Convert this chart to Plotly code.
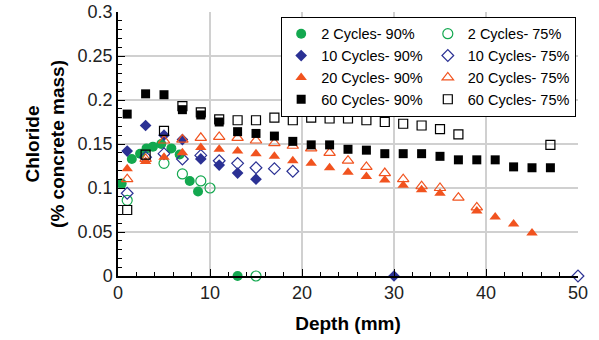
import plotly.graph_objects as go

# 2 cycles
c2_90_x = [0.4, 1.5, 2.4, 3.1, 3.8, 4.7, 5.8, 6.7, 7.8, 8.7, 13]
c2_90_y = [0.105, 0.133, 0.139, 0.145, 0.147, 0.150, 0.145, 0.138, 0.108, 0.096, 0.0]
c2_75_x = [1, 5, 7, 9, 10, 15]
c2_75_y = [0.086, 0.128, 0.116, 0.108, 0.100, 0.0]
# 10 cycles
c10_90_x = [1, 3, 5, 7, 9, 11, 13, 15, 30]
c10_90_y = [0.142, 0.171, 0.160, 0.155, 0.133, 0.126, 0.117, 0.110, 0.0]
c10_75_x = [1, 3, 5, 7, 9, 11, 13, 15, 17, 19, 50]
c10_75_y = [0.094, 0.135, 0.139, 0.133, 0.137, 0.131, 0.128, 0.123, 0.122, 0.119, 0.0]
# 20 cycles
c20_90_x = [1, 3, 5, 7, 9, 11, 13, 15, 17, 19, 21, 23, 25, 27, 29, 31, 33, 35, 39, 41, 43, 45]
c20_90_y = [0.122, 0.130, 0.135, 0.140, 0.146, 0.144, 0.142, 0.139, 0.136, 0.131, 0.128, 0.123,
            0.118, 0.113, 0.109, 0.103, 0.098, 0.094, 0.074, 0.067, 0.059, 0.049]
c20_75_x = [1, 3, 5, 7, 9, 11, 13, 15, 17, 19, 21, 23, 25, 27, 29, 31, 33, 35, 37, 39]
c20_75_y = [0.110, 0.133, 0.154, 0.155, 0.157, 0.158, 0.157, 0.154, 0.151, 0.148, 0.145, 0.140,
            0.131, 0.124, 0.117, 0.110, 0.102, 0.100, 0.089, 0.078]
# 60 cycles
c60_90_x = [1, 3, 5, 7, 9, 11, 13, 15, 17, 19, 21, 23, 25, 27, 29, 31, 33, 35, 37, 39, 41, 43, 45, 47]
c60_90_y = [0.184, 0.207, 0.206, 0.189, 0.183, 0.175, 0.164, 0.162, 0.159, 0.153, 0.149, 0.149,
            0.144, 0.143, 0.139, 0.139, 0.139, 0.136, 0.132, 0.132, 0.132, 0.124, 0.123, 0.123]
c60_75_x = [1, 3, 5, 7, 9, 11, 13, 15, 17, 19, 21, 23, 25, 27, 29, 31, 33, 35, 37, 47]
c60_75_y = [0.075, 0.138, 0.165, 0.193, 0.186, 0.178, 0.177, 0.177, 0.180, 0.177, 0.180, 0.179,
            0.179, 0.177, 0.175, 0.173, 0.171, 0.167, 0.161, 0.149]

GREEN = "#13a84f"
BLUE = "#2b3194"
RED = "#f1531f"
BLACK = "#000000"

series = [
    ("2 Cycles- 90%", c2_90_x, c2_90_y, "circle", GREEN, 10, "h90"),
    ("2 Cycles- 75%", c2_75_x, c2_75_y, "circle-open", GREEN, 10, "h75"),
    ("10 Cycles- 90%", c10_90_x, c10_90_y, "diamond", BLUE, 9, "h90"),
    ("10 Cycles- 75%", c10_75_x, c10_75_y, "diamond-open", BLUE, 9, "h75"),
    ("20 Cycles- 90%", c20_90_x, c20_90_y, "triangle-up", RED, 10, "h90"),
    ("20 Cycles- 75%", c20_75_x, c20_75_y, "triangle-up-open", RED, 10, "h75"),
    ("60 Cycles- 90%", c60_90_x, c60_90_y, "square", BLACK, 9, "h90"),
    ("60 Cycles- 75%", c60_75_x, c60_75_y, "square-open", BLACK, 9, "h75"),
]

fig = go.Figure()
for name, xs, ys, sym, col, sz, grp in series:
    fig.add_trace(go.Scatter(
        x=xs, y=ys, mode="markers", name=name, cliponaxis=False, legendgroup=grp,
        marker=dict(symbol=sym, color=col, size=sz,
                    line=dict(color=col, width=1.2 if "open" in sym else 0)),
    ))

fig.update_layout(
    width=599, height=340,
    margin=dict(l=118, r=21, t=12, b=64),
    paper_bgcolor="white", plot_bgcolor="white",
    font=dict(family="Arial, Liberation Sans, sans-serif", color="#000"),
    showlegend=True,
    legend=dict(
        orientation="h", x=0.996, y=0.982, xanchor="right", yanchor="top",
        bgcolor="white", bordercolor="#000", borderwidth=1,
        font=dict(size=14.5, color="#000"),
        itemsizing="trace", traceorder="grouped", tracegroupgap=0,
    ),
    xaxis=dict(
        range=[0, 50], dtick=10, tick0=0, showgrid=True, gridcolor="#d0d0d0", gridwidth=1.5,
        showline=True, linecolor="#000", linewidth=1.5, zeroline=False,
        ticks="inside", ticklen=7, tickcolor="#000",
        tickfont=dict(size=18, color="#222"),
        minor=dict(ticks="inside", dtick=2, ticklen=4, tickcolor="#000", showgrid=False),
        title=dict(text="<b>Depth (mm)</b>", font=dict(size=19, color="#000"), standoff=14),
        automargin=False,
    ),
    yaxis=dict(
        range=[0, 0.3], dtick=0.05, tick0=0, showgrid=True, gridcolor="#d0d0d0", gridwidth=1.5,
        showline=True, linecolor="#000", linewidth=1.5, zeroline=False,
        ticks="inside", ticklen=7, tickcolor="#000",
        tickfont=dict(size=18, color="#222"),
        minor=dict(ticks="inside", dtick=0.01, ticklen=4, tickcolor="#000", showgrid=False),
        title=dict(text="<b>Chloride</b><br><b>(% concrete mass)</b>", font=dict(size=19, color="#000"), standoff=8),
        automargin=False,
    ),
)

fig.write_html("out.html")
